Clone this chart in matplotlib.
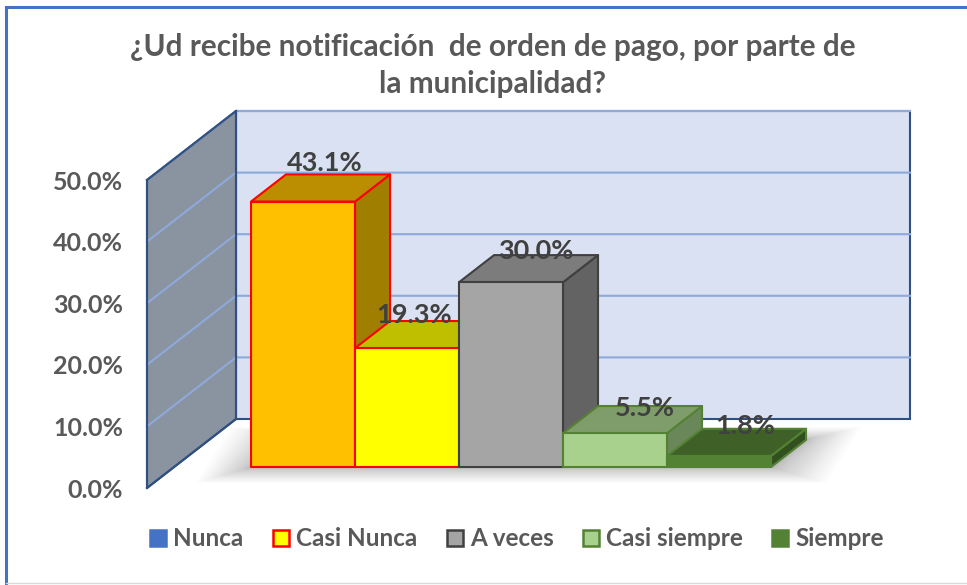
import matplotlib
matplotlib.use('Agg')
import matplotlib.pyplot as plt
from matplotlib.lines import Line2D
from matplotlib.patches import Patch, Polygon

plt.rcParams['font.family'] = ['Lato', 'DejaVu Sans']

# data
title = '¿Ud recibe notificación  de orden de pago, por parte de\nla municipalidad?'
categories = ['Nunca', 'Casi Nunca', 'A veces', 'Casi siempre', 'Siempre']
values = [43.1, 19.3, 30.0, 5.5, 1.8]
bar_pos = [1, 2, 3, 4, 5]
yticks = [0, 10, 20, 30, 40, 50]

# colours
front = ['#FFC000', '#FFFF00', '#A5A5A5', '#A9D18E', '#548235']
top = ['#BA8E00', '#BFBF00', '#7C7C7C', '#7F9D6A', '#3F6127']
side = ['#A07E00', '#A0A000', '#636363', '#6A8759', '#32501F']
edge = ['#FF0000', '#FF0000', '#404040', '#548235', '#548235']
legend_face = ['#4472C4'] + front[1:]
legend_edge = ['#4472C4'] + edge[1:]

# px per unit, the axes fills the whole figure
W, H = 967, 585
PX_CAT, PX_PCT = 104.0, 6.16
X0, Y0 = 120.0, 488.0
DX, DY = 89 / PX_CAT, 69 / PX_PCT   # full depth of the box, in data units
D0, D1 = 0.304, 0.697               # depth of the bars
WALL_L, WALL_R = (147 - X0) / PX_CAT, (821 - X0) / PX_CAT


def pt(c, v, d=0.0):
    return (c + d * DX, v + d * DY)


fig = plt.figure(figsize=(W / 100, H / 100), dpi=100)
ax = fig.add_axes([0, 0, 1, 1])
ax.set_xlim(-X0 / PX_CAT, (W - X0) / PX_CAT)
ax.set_ylim((Y0 - H) / PX_PCT, Y0 / PX_PCT)
for s in ax.spines.values():
    s.set_visible(False)
ax.set_xticks([])
ax.set_yticks(yticks)
ax.set_yticklabels(['%.1f%%' % t for t in yticks], color='#595959', fontsize=18, fontweight='bold')
ax.tick_params(axis='y', length=0, pad=-88.6)

# walls
wall_col = '#2F5080'
grid_col = '#8EA9DB'
ax.add_patch(Polygon([pt(WALL_L, 0, 1), pt(WALL_R, 0, 1), pt(WALL_R, 50, 1), pt(WALL_L, 50, 1)],
                     fc='#DAE1F2', ec=wall_col, lw=1.5, zorder=1))
ax.add_patch(Polygon([pt(WALL_L, 0), pt(WALL_L, 0, 1), pt(WALL_L, 50, 1), pt(WALL_L, 50)],
                     fc='#8A93A0', ec=wall_col, lw=1.5, zorder=2))
for t in yticks[1:]:
    ax.plot(*zip(pt(WALL_L, t), pt(WALL_L, t, 1), pt(WALL_R, t, 1)), color=grid_col, lw=1.5, zorder=3)
ax.plot(*zip(pt(WALL_L, 0), pt(WALL_L, 0, 1)), color=wall_col, lw=1.5, zorder=3)
ax.plot(*zip(pt(WALL_L, 50), pt(WALL_L, 50, 1)), color=wall_col, lw=1.5, zorder=3)
ax.plot(*zip(pt(WALL_L, 0), pt(WALL_L, 50)), color=wall_col, lw=1.5, zorder=3)
ax.plot(*zip(pt(WALL_L, 0, 1), pt(WALL_L, 50, 1)), color=wall_col, lw=1.5, zorder=3)

# soft shadow on the floor
n_shadow = 36
for k in range(1, n_shadow + 1):
    f = (k / n_shadow) ** 2.2
    gx = f * 55 / PX_CAT
    gy = f * 16 / PX_PCT
    ax.add_patch(Polygon([pt(bar_pos[0] - gx, -gy, D0), pt(bar_pos[-1] + 1 + gx, -gy, D0),
                          pt(bar_pos[-1] + 1 + gx, gy * 0.8, D1), pt(bar_pos[0] - gx, gy * 0.8, D1)],
                         fc='#606060', ec='none', alpha=0.016, zorder=4))

# bars, left to right so that each one covers the side of the previous one
for i, (c, v) in enumerate(zip(bar_pos, values)):
    z = 10 + i
    ax.add_patch(Polygon([pt(c + 1, 0, D0), pt(c + 1, 0, D1), pt(c + 1, v, D1), pt(c + 1, v, D0)],
                         fc=side[i], ec=edge[i], lw=1.5, zorder=z, joinstyle='round'))
    ax.add_patch(Polygon([pt(c, v, D0), pt(c + 1, v, D0), pt(c + 1, v, D1), pt(c, v, D1)],
                         fc=top[i], ec=edge[i], lw=1.5, zorder=z, joinstyle='round'))
    ax.add_patch(Polygon([pt(c, 0, D0), pt(c + 1, 0, D0), pt(c + 1, v, D0), pt(c, v, D0)],
                         fc=front[i], ec=edge[i], lw=1.5, zorder=z, joinstyle='round'))

# data labels, nudged off the centre of each top face (px)
nudge = [(4, 25), (-10, 20), (7, 18), (12, 12), (9, 16)]
for c, v, (nx, ny) in zip(bar_pos, values, nudge):
    x, y = pt(c + 0.5, v, (D0 + D1) / 2)
    ax.annotate('%.1f%%' % v, (x, y), xytext=(nx, ny), textcoords='offset pixels',
                ha='center', va='center', color='#404040', fontsize=19.5, fontweight='bold', zorder=30)

ax.text(0.5 * (ax.get_xlim()[0] + ax.get_xlim()[1]) + 9 / PX_CAT, (Y0 - 65.5) / PX_PCT, title,
        ha='center', va='center', color='#595959', fontsize=21.4, fontweight='bold', linespacing=1.38)

handles = [Patch(fc=f, ec=e, lw=1.8) for f, e in zip(legend_face, legend_edge)]
leg = ax.legend(handles, categories, ncol=5, loc='center', bbox_to_anchor=(517 / W, 1 - 539 / H),
                frameon=False, handlelength=0.66, handleheight=0.66, handletextpad=0.3,
                columnspacing=1.2, prop={'size': 17.5, 'weight': 'bold'})
for t in leg.get_texts():
    t.set_color('#595959')

# chart frame
for x, y, col, lw in [((0.006, 0.006), (0, 1 - 7 / H), '#4472C4', 2.2),
                      ((0.006, 1), (1 - 7 / H, 1 - 7 / H), '#4472C4', 2.2),
                      ((0.006, 1), (2 / H, 2 / H), '#D9D9D9', 1.0)]:
    fig.add_artist(Line2D(x, y, color=col, lw=lw))

fig.savefig('out.png', dpi=100)
